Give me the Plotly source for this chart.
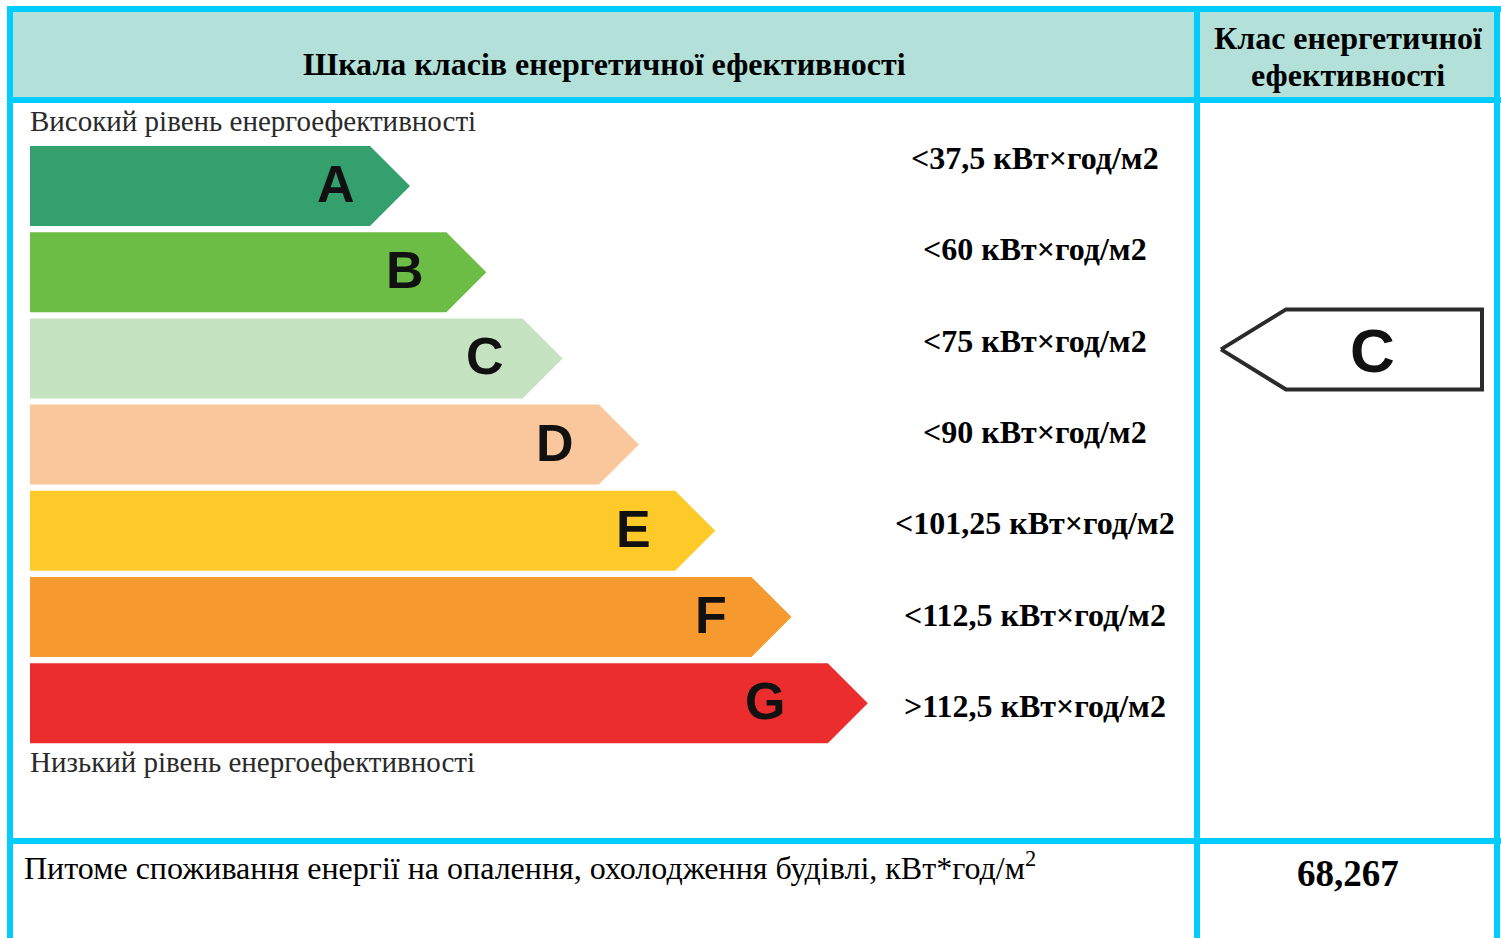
import plotly.graph_objects as go

# ---- data ----
classes = ["A", "B", "C", "D", "E", "F", "G"]
class_colors = ["#33A06E", "#6CBD45", "#C6E3C1", "#F9C79B", "#FDCA2A", "#F6992F", "#EB2D2E"]
thresholds = ["<37,5 кВт×год/м2", "<60 кВт×год/м2", "<75 кВт×год/м2", "<90 кВт×год/м2",
              "<101,25 кВт×год/м2", "<112,5 кВт×год/м2", ">112,5 кВт×год/м2"]
selected_class = "C"
consumption_value = "68,267"
header_left = "Шкала класів енергетичної ефективності"
header_right_lines = ["Клас енергетичної", "ефективності"]
label_high = "Високий рівень енергоефективності"
label_low = "Низький рівень енергоефективності"
bottom_label = "Питоме споживання енергії на опалення, охолодження будівлі, кВт*год/м<sup>2</sup>"

W, H = 1501, 938
CYAN = "#00CCFF"
HEAD = "#B3E1D9"
SERIF = "Liberation Serif, Times New Roman, serif"
SANS = "Liberation Sans, Arial, sans-serif"

fig = go.Figure()

# layout geometry for the scale
row_top0, row_step, row_h = 146, 86.2, 80
tip0, tip_step, tip_len = 410, 76.3, 40
letter_back = [74, 81, 78, 84, 82, 81, 103]
x_left = 30

shapes = []
# header fills
shapes.append(dict(type="rect", x0=10, x1=1197, y0=9, y1=100, fillcolor=HEAD, line_width=0, layer="below"))
shapes.append(dict(type="rect", x0=1197, x1=1498, y0=9, y1=100, fillcolor=HEAD, line_width=0, layer="below"))

for i, (c, col) in enumerate(zip(classes, class_colors)):
    y0 = row_top0 + i * row_step
    y1 = y0 + row_h
    ym = (y0 + y1) / 2
    tip = tip0 + i * tip_step
    body = tip - tip_len
    fig.add_trace(go.Scatter(
        x=[x_left, body, tip, body, x_left, x_left],
        y=[y0, y0, ym, y1, y1, y0],
        mode="lines", fill="toself", fillcolor=col, line=dict(width=0, color=col),
        hoverinfo="skip", showlegend=False))
    fig.add_annotation(x=tip - letter_back[i], y=ym - 2, text=f"<b>{c}</b>", showarrow=False,
                       font=dict(family=SANS, size=52, color="#111111"),
                       xanchor="center", yanchor="middle")
    fig.add_annotation(x=1035, y=158 + i * 91.3, text=f"<b>{thresholds[i]}</b>", showarrow=False,
                       font=dict(family=SERIF, size=32, color="#000000"),
                       xanchor="center", yanchor="middle")

# selected class indicator
si = classes.index(selected_class)
ym = row_top0 + si * row_step + row_h / 2 - 9
ind_tip, ind_corner, ind_right, ind_half = 1221, 1286, 1482, 40
fig.add_trace(go.Scatter(
    x=[ind_tip, ind_corner, ind_right, ind_right, ind_corner, ind_tip],
    y=[ym, ym - ind_half, ym - ind_half, ym + ind_half, ym + ind_half, ym],
    mode="lines", line=dict(color="#2b2b2b", width=4), fill="toself", fillcolor="white",
    hoverinfo="skip", showlegend=False))
fig.add_annotation(x=1372, y=ym + 1, text=f"<b>{selected_class}</b>", showarrow=False,
                   font=dict(family=SANS, size=62, color="#111111"), xanchor="center", yanchor="middle")

# texts
fig.add_annotation(x=604, y=64, text=f"<b>{header_left}</b>", showarrow=False,
                   font=dict(family=SERIF, size=32, color="#000"), xanchor="center", yanchor="middle")
for j, line in enumerate(header_right_lines):
    fig.add_annotation(x=1348, y=38 + j * 37, text=f"<b>{line}</b>", showarrow=False,
                       font=dict(family=SERIF, size=32, color="#000"), xanchor="center", yanchor="middle")
fig.add_annotation(x=28, y=121, text=label_high, showarrow=False,
                   font=dict(family=SERIF, size=29, color="#2a2a2a"), xanchor="left", yanchor="middle")
fig.add_annotation(x=28, y=762, text=label_low, showarrow=False,
                   font=dict(family=SERIF, size=29, color="#2a2a2a"), xanchor="left", yanchor="middle")
fig.add_annotation(x=22, y=866, text=bottom_label, showarrow=False,
                   font=dict(family=SERIF, size=32, color="#000"), xanchor="left", yanchor="middle")
fig.add_annotation(x=1348, y=873, text=f"<b>{consumption_value}</b>", showarrow=False,
                   font=dict(family=SERIF, size=37, color="#000"), xanchor="center", yanchor="middle")

# table grid lines
lw = 6
for (x0, y0, x1, y1) in [
    (7, 9, 1501, 9),        # top
    (10, 6, 10, 940),       # left
    (1497, 6, 1497, 940),   # right
    (1197, 6, 1197, 940),   # divider
    (7, 100, 1501, 100),    # header bottom
    (7, 841, 1501, 841),    # bottom row top
]:
    shapes.append(dict(type="line", x0=x0, y0=y0, x1=x1, y1=y1, line=dict(color=CYAN, width=lw), layer="above"))

fig.update_layout(
    width=W, height=H, margin=dict(l=0, r=0, t=0, b=0),
    paper_bgcolor="white", plot_bgcolor="white", shapes=shapes,
    xaxis=dict(range=[0, W], visible=False, fixedrange=True),
    yaxis=dict(range=[H, 0], visible=False, fixedrange=True),
)
fig.write_html("out.html", config={"displayModeBar": False},
               post_script="document.body.style.margin='0';document.body.style.overflow='hidden';")
